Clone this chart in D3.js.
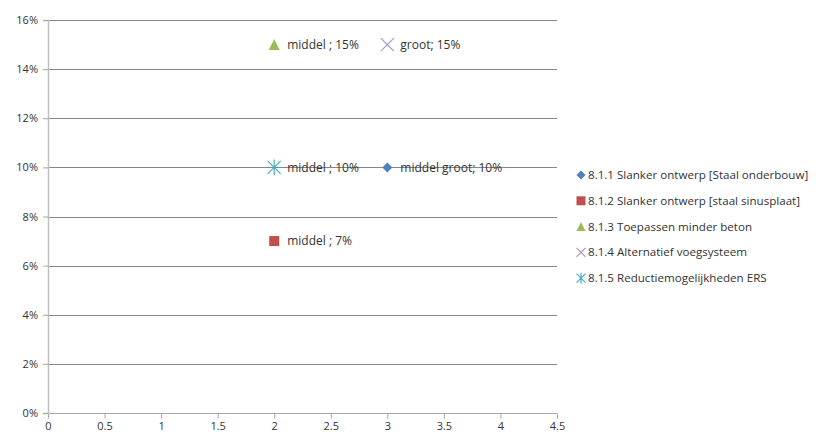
<!DOCTYPE html>
<html>
<head>
<meta charset="utf-8">
<script src="https://cdn.jsdelivr.net/npm/d3@7"></script>
<style>
  body { margin: 0; background: #fff; }
  text { font-family: "Open Sans", "DejaVu Sans", sans-serif; fill: #333; }
</style>
</head>
<body>
<div id="chart"></div>
<script>
const width = 838;
const height = 437;
const margin = { top: 20, bottom: 24, left: 48, right: 281 };

// data
const seriesNames = [
  "8.1.1 Slanker ontwerp [Staal onderbouw]",
  "8.1.2 Slanker ontwerp [staal sinusplaat]",
  "8.1.3 Toepassen minder beton",
  "8.1.4 Alternatief voegsysteem",
  "8.1.5 Reductiemogelijkheden ERS"
];
const xValues = [3, 2, 2, 3, 2];
const yValues = [0.10, 0.07, 0.15, 0.15, 0.10];
const pointLabels = ["middel groot; 10%", "middel ; 7%", "middel ; 15%", "groot; 15%", "middel ; 10%"];
const xTicks = [0, 0.5, 1, 1.5, 2, 2.5, 3, 3.5, 4, 4.5];
const yTicks = [0, 0.02, 0.04, 0.06, 0.08, 0.10, 0.12, 0.14, 0.16];

const colors = ["#4f81bd", "#c0504d", "#9bbb59", "#a897c4", "#4bacc6"];
const shapes = ["diamond", "square", "triangle", "cross", "star"];

const svg = d3.select('#chart')
  .append('svg')
  .attr('width', width)
  .attr('height', height);

const x = d3.scaleLinear()
  .domain([0, 4.5])
  .range([margin.left, width - margin.right]);

const y = d3.scaleLinear()
  .domain([0, 0.16])
  .range([height - margin.bottom, margin.top]);

// gridlines
svg.append('g')
  .selectAll('line')
  .data(yTicks.slice(1))
  .join('line')
    .attr('x1', x(0))
    .attr('x2', x(4.5))
    .attr('y1', d => Math.round(y(d)) + 0.5)
    .attr('y2', d => Math.round(y(d)) + 0.5)
    .attr('stroke', '#868686');

function xAxis(g) {
  g.attr('transform', `translate(0, ${Math.round(y(0)) + 0.5})`)
    .call(d3.axisBottom(x).tickValues(xTicks).tickFormat(d3.format('')).tickSize(5).tickPadding(4))
    .attr('font-size', '11px');
  g.select('.domain').attr('stroke', '#a6a6a6').attr('d', `M${x(0) - 5},0H${x(4.5)}`);
  g.selectAll('.tick line').attr('stroke', '#a6a6a6');
  g.selectAll('.tick text').attr('fill', '#333').attr('font-family', '"Open Sans", sans-serif');
}

function yAxis(g) {
  g.attr('transform', `translate(${x(0)}, 0)`)
    .call(d3.axisLeft(y).tickValues(yTicks).tickFormat(d3.format('.0%')).tickSize(5).tickPadding(5))
    .attr('font-size', '11px');
  g.select('.domain').attr('stroke', '#bfbfbf').attr('stroke-width', 1.5);
  g.selectAll('.tick line').attr('stroke', '#a6a6a6');
  g.selectAll('.tick text').attr('fill', '#333').attr('font-family', '"Open Sans", sans-serif');
}

svg.append('g').call(xAxis);
svg.append('g').call(yAxis);

function drawMarker(g, shape, color, s) {
  if (shape === 'diamond') {
    g.append('path').attr('d', `M0,${-s}L${s},0L0,${s}L${-s},0Z`).attr('fill', color);
  } else if (shape === 'square') {
    g.append('rect').attr('x', -s).attr('y', -s).attr('width', 2 * s).attr('height', 2 * s).attr('fill', color);
  } else if (shape === 'triangle') {
    g.append('path').attr('d', `M0,${-s}L${s},${s}L${-s},${s}Z`).attr('fill', color);
  } else if (shape === 'cross') {
    g.append('path').attr('d', `M${-s},${-s}L${s},${s}M${-s},${s}L${s},${-s}`).attr('stroke', color).attr('stroke-width', 1.2);
  } else if (shape === 'star') {
    g.append('path').attr('d', `M${-s},${-s}L${s},${s}M${-s},${s}L${s},${-s}M0,${-s * 1.2}V${s * 1.2}`).attr('stroke', color).attr('stroke-width', 1.2);
  }
}

const sizes = [5, 5, 5.5, 6.5, 6.5];

// points
const pts = svg.append('g')
  .selectAll('g')
  .data(seriesNames)
  .join('g')
    .attr('transform', (d, i) => `translate(${x(xValues[i])}, ${y(yValues[i])})`);

pts.each(function(d, i) {
  drawMarker(d3.select(this), shapes[i], colors[i], sizes[i]);
});

pts.append('text')
  .attr('x', 13)
  .attr('dy', '0.35em')
  .attr('font-size', '12px')
  .text((d, i) => pointLabels[i]);

// legend
const legend = svg.append('g')
  .attr('transform', 'translate(581, 175)');

const items = legend.selectAll('g')
  .data(seriesNames)
  .join('g')
    .attr('transform', (d, i) => `translate(0, ${i * 25.8})`);

items.each(function(d, i) {
  drawMarker(d3.select(this), shapes[i], colors[i], i === 1 ? 4.5 : 4.5);
});

items.append('text')
  .attr('x', 7)
  .attr('dy', '0.35em')
  .attr('font-size', '11.6px')
  .text(d => d);
</script>
</body>
</html>
